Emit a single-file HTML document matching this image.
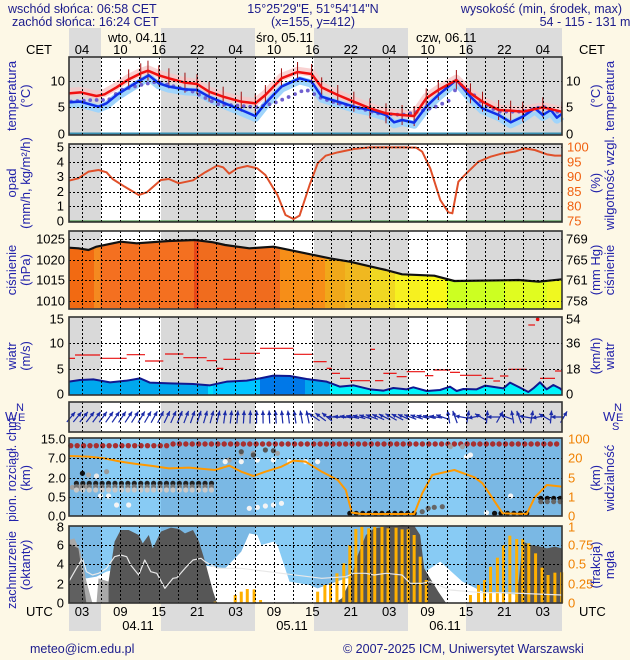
<!DOCTYPE html>
<html><head><meta charset="utf-8"><style>
html,body{margin:0;padding:0;background:#fdf8e6;}
svg{display:block;font-family:"Liberation Sans",sans-serif;}
</style></head><body>
<svg id="s" width="630" height="660" viewBox="0 0 630 660" xmlns="http://www.w3.org/2000/svg">
<rect width="630" height="660" fill="#fdf8e6"/>
<g id="bg"></g>
<g id="content"></g>
<g fill="#1c1c8c" font-size="12.5">
<text x="8" y="13">wschód słońca: 06:58 CET</text>
<text x="12" y="26">zachód słońca: 16:24 CET</text>
<text x="313" y="13" text-anchor="middle">15°25'29"E, 51°54'14"N</text>
<text x="313" y="26" text-anchor="middle">(x=155,  y=412)</text>
<text x="622" y="13" text-anchor="end">wysokość (min, środek, max)</text>
<text x="585" y="26" text-anchor="middle">54 - 115 - 131 m</text>
</g>
<g fill="#000" font-size="13">
<text x="108" y="42">wto, 04.11</text>
<text x="256" y="42">śro, 05.11</text>
<text x="416" y="42">czw, 06.11</text>
<text x="26" y="54">CET</text><text x="579" y="54">CET</text>
<text x="26" y="616">UTC</text><text x="579" y="616">UTC</text>
<text x="138" y="630" text-anchor="middle">04.11</text>
<text x="292" y="630" text-anchor="middle">05.11</text>
<text x="445" y="630" text-anchor="middle">06.11</text>
</g>
<g fill="#1c1c8c" font-size="12.5">
<text x="30" y="653">meteo@icm.edu.pl</text>
<text x="343" y="653">© 2007-2025 ICM, Uniwersytet Warszawski</text>
</g>
<g id="labels" fill="#2222aa" font-size="13"></g>
</svg>
<script>
const NS="http://www.w3.org/2000/svg";
const bg=document.getElementById('bg'),C=document.getElementById('content'),L=document.getElementById('labels');
function el(p,tag,a,txt){const e=document.createElementNS(NS,tag);for(const k in a)e.setAttribute(k,a[k]);if(txt!==undefined)e.textContent=txt;p.appendChild(e);return e;}
const X0=69,X1=562,PX=6.4;
const nights=[[69,101],[161,255],[314,408],[466,562]];
const panels=[[57,135],[144,222],[231,309],[317,395],[402,432],[438,516],[526,603]];
nights.forEach(n=>{el(bg,'rect',{x:n[0],y:28,width:n[1]-n[0],height:29,fill:'#dcdcdc'});el(bg,'rect',{x:n[0],y:603,width:n[1]-n[0],height:28,fill:'#dcdcdc'});});
panels.forEach((p,i)=>{
 if(i<5){el(bg,'rect',{x:X0,y:p[0],width:X1-X0,height:p[1]-p[0],fill:'#fff'});
 nights.forEach(n=>el(bg,'rect',{x:n[0],y:p[0],width:n[1]-n[0],height:p[1]-p[0],fill:'#d9d9d9'}));}
 else{el(bg,'rect',{x:X0,y:p[0],width:X1-X0,height:p[1]-p[0],fill:'#88cbf4'});
 nights.forEach(n=>el(bg,'rect',{x:n[0],y:p[0],width:n[1]-n[0],height:p[1]-p[0],fill:'#7ab8e4'}));}
});
for(let k=0;k<13;k++){const x=82+38.4*k;const c=['04','10','16','22'][k%4];el(L,'text',{x:x,y:54,'text-anchor':'middle',fill:'#000'},c);
 el(L,'text',{x:x,y:616,'text-anchor':'middle',fill:'#000'},['03','09','15','21'][k%4]);}
function T(ox,oy,sx,sy){return `translate(${ox},${oy}) scale(${sx},${sy})`;}
const Z1=T(0,0,1/2.487,1/3),Z3=T(0,135,1/2.487,1/3),Z4=T(0,515,1/2.487,1/3),Z2=T(0,390,1/2.487,1/3),Z7=T(60,310,1/3,1/3);
function line(tr,pts,a){const g=el(C,'g',{transform:tr});a=Object.assign({fill:'none','vector-effect':'non-scaling-stroke','stroke-linejoin':'round'},a);a.points=pts.map(p=>p.join(',')).join(' ');return el(g,'polyline',a);}
function poly(tr,pts,fill,extra){const g=el(C,'g',{transform:tr});return el(g,'polygon',Object.assign({points:pts.map(p=>p.join(',')).join(' '),fill:fill},extra||{}));}
const red=[[171,280],[200,277],[240,288],[260,283],[290,262],[320,238],[350,220],[368,212],[395,226],[420,235],[460,248],[490,252],[520,275],[555,290],[600,305],[635,310],[660,285],[700,235],[740,216],[775,222],[800,262],[840,285],[880,305],[920,325],[960,340],[1000,345],[1030,348],[1060,295],[1090,270],[1135,240],[1170,280],[1200,305],[1240,330],[1270,332],[1300,335],[1350,322],[1397,335]];
const blue=[[171,307],[200,305],[245,320],[265,310],[290,285],[320,262],[350,240],[370,226],[395,250],[420,260],[460,268],[490,270],[520,290],[555,308],[600,330],[635,348],[660,310],[700,260],[745,235],[775,245],[800,290],[840,305],[880,320],[920,330],[960,345],[980,367],[1000,360],[1030,368],[1060,320],[1090,285],[1135,240],[1170,290],[1200,325],[1240,345],[1270,367],[1300,350],[1330,325],[1350,345],[1370,330],[1385,353],[1397,342]];
const pur=[[171,305],[230,300],[270,300],[300,270],[350,255],[390,245],[420,255],[480,275],[540,312],[600,318],[640,322],[680,310],[720,290],[760,268],[800,295],[840,310],[880,320],[940,340],[1000,345],[1040,335],[1080,322],[1120,300],[1140,250],[1170,275],[1200,310],[1240,335],[1300,335],[1350,320],[1397,340]];
line(Z1,blue.map(p=>[p[0],p[1]+6]),{stroke:'#9fd4fb','stroke-width':8});
line(Z1,red.map(p=>[p[0],p[1]-4]),{stroke:'#f8c8c8','stroke-width':8,opacity:0.8});
red.forEach((p,i)=>{if(p[0]>300){const g=el(C,'g',{transform:Z1});el(g,'line',{x1:p[0],y1:p[1]-30,x2:p[0],y2:p[1]+30,stroke:'#a01010','stroke-width':1,'vector-effect':'non-scaling-stroke'});}});
// purple dots
function interp(pts,zx){for(let i=0;i<pts.length-1;i++){if(zx>=pts[i][0]&&zx<=pts[i+1][0]){const f=(zx-pts[i][0])/(pts[i+1][0]-pts[i][0]);return pts[i][1]+f*(pts[i+1][1]-pts[i][1]);}}return pts[pts.length-1][1];}
for(let x=71;x<=561;x+=6.4){const zy=interp(pur,x*2.487);el(C,'circle',{cx:x,cy:zy/3,r:1.9,fill:'#7060d0'});}
line(Z1,blue,{stroke:'#1030e8','stroke-width':2.5});
line(Z1,red,{stroke:'#f01010','stroke-width':2.5});
el(C,'line',{x1:X0,y1:133.5,x2:X1,y2:133.5,stroke:'#3a8fb0','stroke-width':2});
const hum=[[171,137],[195,130],[220,110],[245,105],[265,112],[280,132],[310,155],[345,180],[365,172],[400,135],[420,132],[445,145],[480,136],[510,112],[540,92],[555,97],[570,116],[590,100],[615,93],[640,100],[660,120],[690,180],[710,240],[730,252],[745,242],[770,150],[790,85],[810,62],[840,52],[880,42],[920,37],[1000,37],[1035,38],[1050,50],[1070,100],[1095,195],[1115,232],[1125,235],[1140,140],[1160,115],[1190,80],[1220,65],[1250,55],[1280,50],[1305,40],[1330,45],[1360,58],[1380,62],[1397,62]];
line(Z3,hum,{stroke:'#e0502a','stroke-width':2});
el(C,'line',{x1:X0,y1:221,x2:X1,y2:221,stroke:'#2a8a2a','stroke-width':1});
const pr=[[171,338],[195,340],[220,345],[240,335],[300,320],[340,325],[420,318],[485,315],[530,322],[560,330],[620,340],[680,335],[700,340],[760,355],[820,370],[870,380],[960,405],[1000,418],[1080,422],[1130,438],[1250,436],[1290,435],[1340,440],[1397,433]];
const defs=el(document.getElementById('s'),'defs',{});
const cp=el(defs,'clipPath',{id:'pc'});el(cp,'polygon',{points:pr.concat([[1397,520],[171,520]]).map(p=>[(p[0]/2.487).toFixed(1),(p[1]/3+135).toFixed(1)].join(',')).join(' ')});
const pg=el(C,'g',{'clip-path':'url(#pc)'});
const strips=[[69,94,'#f26a12'],[94,100,'#f48a20'],[100,194,'#f47020'],[194,199,'#e84818'],[199,280,'#f06c1e'],[280,325,'#f68e18'],[325,345,'#f0a81a'],[345,370,'#f0b820'],[370,395,'#f0d822'],[395,420,'#f6f020'],[420,447,'#f8f818'],[447,505,'#ccff22'],[505,547,'#e0fc20'],[547,562,'#f0f820']];
strips.forEach(s=>el(pg,'rect',{x:s[0],y:231,width:s[1]-s[0],height:78,fill:s[2]}));
line(Z3,pr,{stroke:'#111','stroke-width':2.2});
const w=[[27,215],[60,210],[100,208],[150,217],[200,212],[240,205],[270,218],[330,220],[400,222],[450,226],[500,215],[560,212],[600,205],[640,197],[690,198],[740,207],[800,215],[840,230],[880,226],[930,238],[970,242],[1000,234],[1040,238],[1060,232],[1100,243],[1140,240],[1170,230],[1190,243],[1210,237],[1250,238],[1275,227],[1330,235],[1350,218],[1380,233],[1405,246],[1420,235],[1440,217],[1460,238],[1480,225],[1500,235],[1505,240]];
const cw=el(defs,'clipPath',{id:'wc'});el(cw,'polygon',{points:w.concat([[1505,255],[27,255]]).map(p=>[(60+p[0]/3).toFixed(1),(310+p[1]/3).toFixed(1)].join(',')).join(' ')});
const wg=el(C,'g',{'clip-path':'url(#wc)'});
[[69,208,'#00a8ee'],[208,213,'#00e0ff'],[213,260,'#00c4ff'],[260,305,'#0078e8'],[305,330,'#00a8ee'],[330,562,'#00f4fa']].forEach(s=>el(wg,'rect',{x:s[0],y:317,width:s[1]-s[0],height:78,fill:s[2]}));
line(Z7,w,{stroke:'#101890','stroke-width':2});
const gust=[[27,45,145],[45,120,135],[120,200,145],[200,255,134],[255,310,153],[315,370,132],[370,440,143],[440,470,152],[470,490,175],[490,540,148],[540,600,130],[600,700,115],[700,760,133],[760,800,155],[800,815,175],[815,840,190],[840,870,205],[870,930,212],[930,945,118],[945,970,212],[970,1010,190],[1010,1040,200],[1040,1095,185],[1095,1120,197],[1120,1170,180],[1170,1200,187],[1200,1265,196],[1265,1300,205],[1300,1320,213],[1320,1345,198],[1345,1400,178],[1405,1425,45],[1440,1485,205],[1485,1505,183]];
gust.forEach(g=>el(C,'line',{x1:60+g[0]/3,x2:60+g[1]/3,y1:310+g[2]/3,y2:310+g[2]/3,stroke:'#e81010','stroke-width':1.2}));
el(C,'circle',{cx:60+1433/3,cy:310+28/3,r:1.8,fill:'#e81010'});
for(let t=0;t<=77;t+=1){const x=X0+PX*t+2;let a;
 if(t<12)a=40-t*0.8;else if(t<24)a=30-(t-12)*1.5;else if(t<38)a=8-(t-24)*1.5;else if(t<50)a=-50-((t*37)%40);else if(t<58)a=-60-((t*53)%50);else a=[-20,-80,10,-100,-60,5,-90,30,-70,-10][t%10];
 a=Math.max(-110,Math.min(50,a));
 const r=a*Math.PI/180,len=13,cy=417;
 const dx=Math.sin(r)*len/2,dy=-Math.cos(r)*len/2;
 el(C,'line',{x1:x-dx,y1:cy-dy,x2:x+dx,y2:cy+dy,stroke:'#1a2aa8','stroke-width':1.2});
 const hx=x+dx,hy=cy+dy,b1=r+Math.PI-0.45,b2=r+Math.PI+0.45;
 el(C,'polygon',{points:`${hx},${hy} ${hx+Math.sin(b1)*5},${hy-Math.cos(b1)*5} ${hx+Math.sin(b2)*5},${hy-Math.cos(b2)*5}`,fill:'#1a2aa8'});}
function dot(zx,zy,c,r){el(C,'circle',{cx:zx/2.487,cy:390+zy/3,r:r||2.6,fill:c});}
for(let zx=176;zx<=1397;zx+=15.9){dot(zx,(zx<420?167:162),'#a83030',2.7);}
[[200,290],[215,290],[180,292],[195,296],[570,210],[600,190],[630,190],[690,190],[1120,170],[1150,170]].forEach(p=>dot(p[0],p[1],'#a0a0a0'));
for(let zx=190;zx<540;zx+=16){dot(zx,280,'#222');dot(zx,290,'#777');dot(zx,300,'#c8c8c8');}
dot(205,250,'#111');dot(220,255,'#aaa');dot(240,258,'#e8e8e8');dot(265,245,'#999');
[[250,318],[270,318],[290,345],[320,345],[560,215],[600,215],[640,210],[680,210],[720,215],[760,215],[790,215],[620,355],[640,352],[660,348],[680,345],[700,340],[1160,200],[1170,195],[1270,318],[1210,368]].forEach(p=>dot(p[0],p[1],'#f4f4f4'));
[[600,185],[630,195],[660,180],[680,182]].forEach(p=>dot(p[0],p[1],'#555'));
for(let zx=870;zx<=1030;zx+=16)dot(zx,370,'#111');
[[1050,365],[1065,355],[1080,352],[1100,350]].forEach(p=>dot(p[0],p[1],'#666'));
for(let zx=1230;zx<=1320;zx+=16)dot(zx,370,'#111');
for(let zx=1345;zx<=1397;zx+=16){dot(zx,325,'#111');dot(zx,335,'#666');}
const vis=[[171,198],[220,200],[260,205],[300,215],[340,222],[380,228],[420,235],[470,233],[535,240],[570,227],[600,245],[630,258],[660,245],[700,230],[730,212],[760,215],[800,245],[840,270],[860,300],[875,368],[900,372],[1030,372],[1050,310],[1075,255],[1130,240],[1180,262],[1200,280],[1250,370],[1310,372],[1330,322],[1360,285],[1397,290]];
line(Z2,vis,{stroke:'#ff9900','stroke-width':2});
poly(Z4,[[171,265],[171,170],[190,180],[215,190],[240,185],[265,170],[300,160],[360,160],[420,165],[500,150],[560,160],[600,110],[620,55],[640,60],[650,90],[680,80],[690,90],[720,200],[770,210],[790,220],[860,190],[1040,185],[1095,140],[1150,200],[1200,230],[1300,240],[1397,240],[1397,265]],'#fff');
poly(Z4,[[171,265],[171,75],[185,70],[200,110],[215,200],[230,265]],'#a8a8a8');
poly(Z4,[[171,265],[171,85],[195,100],[205,180],[215,265]],'#606060');
poly(Z4,[[240,265],[245,190],[270,200],[275,265]],'#a8a8a8');
poly(Z4,[[270,265],[270,200],[285,80],[300,45],[320,45],[345,60],[355,85],[370,60],[380,100],[400,50],[425,38],[445,42],[460,55],[480,45],[495,80],[510,140],[530,230],[540,265]],'#575757');
poly(Z4,[[830,265],[850,250],[870,200],[890,120],[910,60],[930,40],[960,35],[1000,30],[1030,32],[1045,60],[1055,160],[1070,190],[1090,230],[1110,265]],'#575757');
poly(Z4,[[1280,265],[1290,200],[1300,80],[1320,90],[1345,95],[1360,100],[1380,95],[1397,100],[1397,265]],'#575757');
const bars=[[535,260],[585,240],[600,230],[615,222],[632,223],[648,255],[790,230],[808,210],[822,205],[838,175],[855,145],[870,90],[885,42],[900,35],[917,40],[932,35],[950,35],[965,40],[985,38],[1000,43],[1015,43],[1030,60],[1045,125],[1060,195],[1170,240],[1190,210],[1205,195],[1220,155],[1237,128],[1252,90],[1268,62],[1285,72],[1300,72],[1315,85],[1332,115],[1348,158],[1363,180],[1380,173],[1397,172]];
bars.forEach(b=>el(C,'rect',{x:b[0]/2.487-1.5,y:515+b[1]/3,width:3,height:603-515-b[1]/3,fill:'#ffb000'}));
line(Z4,[[171,200],[190,160],[205,130],[215,170],[230,180],[245,175],[265,160],[285,125],[300,120],[315,125],[325,150],[345,180],[360,135],[375,170],[390,175],[410,220],[430,190],[440,188],[460,160],[480,135],[500,130],[510,140],[540,160],[600,160],[700,175],[800,190],[860,185],[880,175],[910,175],[930,180],[960,175],[1000,180],[1020,205],[1050,205],[1070,200],[1120,225],[1200,233],[1250,233],[1397,240]],{stroke:'#e8e8e8','stroke-width':1.2});
panels.forEach((p,i)=>{
 const g=el(C,'g',{stroke:'#000','stroke-width':1,'stroke-dasharray':'2 2'});
 for(let t=2;t<77;t+=3){const x=Math.round(X0+PX*t)+0.5;el(g,'line',{x1:x,y1:p[0],x2:x,y2:p[1]});}
});
function hl(ys){const g=el(C,'g',{stroke:'#000','stroke-width':1,'stroke-dasharray':'2 2'});ys.forEach(y=>el(g,'line',{x1:X0,x2:X1,y1:y+0.5,y2:y+0.5}));}
hl([81,107]);hl([147,162,177,192,206]);hl([239,260,280,301]);hl([343,369]);hl([458,478,497]);hl([545,564,584]);
panels.forEach(p=>el(C,'rect',{x:X0,y:p[0],width:X1-X0,height:p[1]-p[0],fill:'none',stroke:'#333','stroke-width':1.6}));
function tl(x,y,s,anchor,fill){el(L,'text',{x:x,y:y+4.5,'text-anchor':anchor,fill:fill||'#000'},s);}
[[134,'0'],[107,'5'],[81,'10']].forEach(a=>{tl(65,a[0],a[1],'end');tl(566,a[0],a[1],'start');});
[0,1,2,3,4,5].forEach(v=>tl(64,221-14.8*v,String(v),'end'));
[75,80,85,90,95,100].forEach((v,i)=>tl(567,221-14.8*i,String(v),'start','#f06010'));
[[1025,239],[1020,260],[1015,280],[1010,301]].forEach(a=>tl(65,a[1],String(a[0]),'end'));
[[769,239],[765,260],[761,280],[758,301]].forEach(a=>tl(566,a[1],String(a[0]),'start'));
[[15,319],[10,343],[5,369],[0,394]].forEach(a=>tl(64,a[1],String(a[0]),'end'));
[[54,319],[36,343],[18,369],[0,394]].forEach(a=>tl(566,a[1],String(a[0]),'start'));
[['15.0',439],['7.0',458],['2.0',478],['0.5',497],['0.0',516]].forEach(a=>tl(66,a[1],a[0],'end'));
[['100',439],['20',458],['5',478],['1',497],['0',516]].forEach(a=>tl(568,a[1],a[0],'start','#f08000'));
[[8,527],[6,545],[4,564],[2,584],[0,603]].forEach(a=>tl(64,a[1],String(a[0]),'end'));
[['1',527],['0.75',545],['0.5',564],['0.25',584],['0',603]].forEach(a=>tl(568,a[1],a[0],'start','#f08000'));
[5,603].forEach(x=>{
 el(L,'text',{x:x,y:421,fill:'#2222aa','font-size':'13'},'W');
 el(L,'text',{x:x+11,y:411,fill:'#2222aa','font-size':'11'},'N');
 el(L,'text',{x:x+13,y:421,fill:'#2222aa','font-size':'11'},'E');
 el(L,'text',{x:x+9,y:430,fill:'#2222aa','font-size':'11'},'S');});
function rl(x,yc,s,fs){el(L,'text',{x:0,y:0,transform:`translate(${x},${yc}) rotate(-90)`,'text-anchor':'middle',fill:'#2222aa','font-size':fs||13},s);}
rl(16,96,'temperatura');rl(30,96,'(°C)');rl(600,96,'(°C)');rl(614,96,'temperatura');
rl(16,183,'opad');rl(30,183,'(mm/h, kg/m²/h)');rl(600,183,'(%)');rl(614,183,'wilgotność wzgl.');
rl(16,270,'ciśnienie');rl(30,270,'(hPa)');rl(600,270,'(mm Hg)');rl(614,270,'ciśnienie');
rl(16,356,'wiatr');rl(30,356,'(m/s)');rl(600,356,'(km/h)');rl(614,356,'wiatr');
rl(16,468,'pion. rozciągł. chm.',12.5);rl(30,478,'(km)');rl(600,478,'(km)');rl(614,478,'widzialność');
rl(16,570,'zachmurzenie',12.5);rl(30,565,'(oktanty)');rl(600,565,'(frakcja)');rl(614,565,'mgła');
</script>
</body></html>
